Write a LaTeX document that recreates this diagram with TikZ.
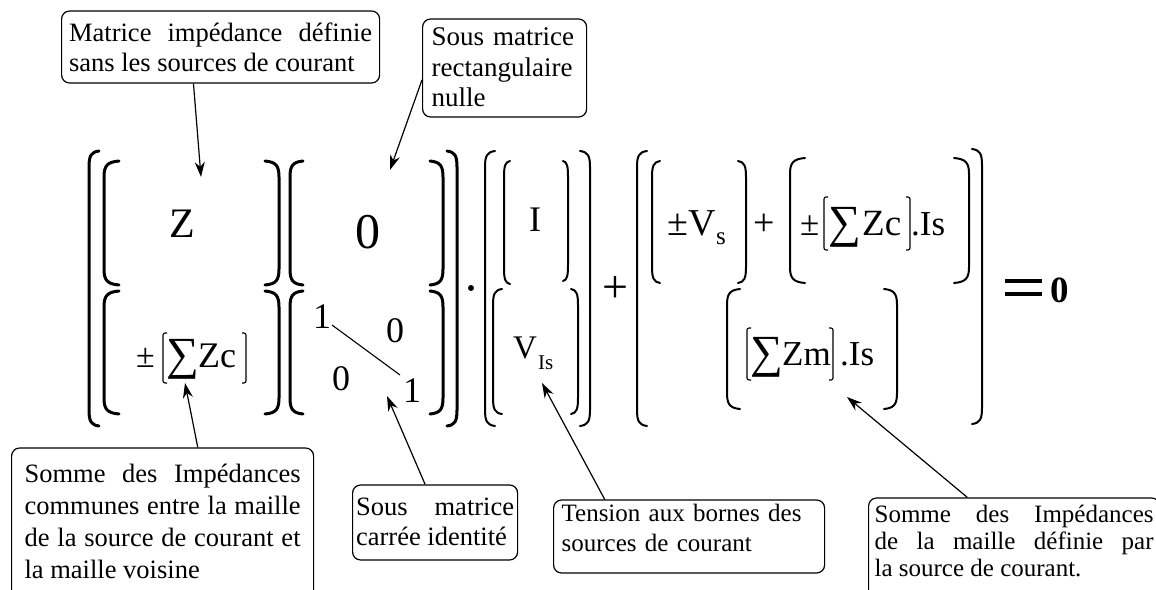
\documentclass[tikz,border=0pt]{standalone}
\usepackage{fontspec}
\setmainfont{Liberation Serif}
\usetikzlibrary{arrows.meta,calc}
\hyphenpenalty=10000
\exhyphenpenalty=10000
\newcommand\fs[2]{\fontsize{#1}{#2}\selectfont}
% big bracket: x, ytop, ybottom, hook dx (signed), line width
\newcommand\bigbrk[5]{\draw[line width=#5pt, line cap=round] ({#1+#4},{#2-1}) .. controls ({#1+0.2*#4},#2) and (#1,{#2+4}) .. (#1,{#2+15}) -- (#1,{#3-15}) .. controls (#1,{#3-4}) and ({#1+0.2*#4},#3) .. ({#1+#4},{#3+1});}
% thin bracket: x, ytop, ybottom, hook dx
\newcommand\thinbrk[4]{\draw[line width=1.1pt, rounded corners=2pt] ({#1+#4},#2) -- (#1,#2) -- (#1,#3) -- ({#1+#4},#3);}
\tikzset{
  box/.style={draw, line width=1.2pt, rounded corners=8pt, inner ysep=0pt, anchor=base west},
  arr/.style={-{Stealth[length=15pt,width=10pt]}, line width=1.2pt},
  t/.style={inner sep=0pt, anchor=base west},
}
\begin{document}
\begin{tikzpicture}[x=1pt,y=-1pt]
\useasboundingbox (0,0) rectangle (1156,589);
\fill[white] (0,0) rectangle (1156,589);

% ---------- brackets ----------
% outer group 1
\bigbrk{89}{152}{425}{10}{3}
\bigbrk{457}{152}{425}{-10}{3}
% block 1
\bigbrk{104}{162}{284}{15}{3}
\bigbrk{104}{292}{413}{15}{3}
\bigbrk{279}{162}{284}{-14}{3}
\bigbrk{279}{292}{413}{-14}{3}
% block 2
\bigbrk{290}{162}{284}{13}{3}
\bigbrk{290}{292}{413}{13}{3}
\bigbrk{443}{162}{284}{-13}{3}
\bigbrk{443}{292}{413}{-13}{3}
% group 3
\bigbrk{485}{152}{425}{10}{2}
\bigbrk{590}{152}{425}{-10}{2}
\bigbrk{504}{162}{283}{6}{2}
\bigbrk{493}{290}{413}{9}{2}
\bigbrk{568}{162}{280}{-5}{2}
\bigbrk{578}{290}{413}{-7}{2}
% group 4
\bigbrk{637}{152}{425}{10}{2}
\bigbrk{982}{150}{423}{-10}{2}
\bigbrk{652}{162}{282}{8}{2}
\bigbrk{746}{162}{282}{-8}{2}
\bigbrk{790}{159}{282}{15}{2}
\bigbrk{969}{159}{282}{-15}{2}
\bigbrk{727}{290}{408}{13}{2}
\bigbrk{897}{290}{408}{-13}{2}

% ---------- block 1 ----------
\node[t, font=\fs{42}{42}] (Z) at (169,237) {Z};
\node[t, font=\fs{34}{34}] (pm1) at (136,367) {±};
\thinbrk{163}{333}{383}{4}
\node[t, font=\fs{46}{46}] (sig1) at (166,369) {∑};
\node[t, font=\fs{36}{36}] (zc1) at (198,367) {Zc};
\thinbrk{246}{333}{383}{-4}

% ---------- block 2 ----------
\node[t, font=\fs{50}{50}] (zero) at (355,248) {0};
\node[t, font=\fs{36}{36}] (i11) at (313,328) {1};
\node[t, font=\fs{36}{36}] (i12) at (386,342) {0};
\node[t, font=\fs{36}{36}] (i21) at (332,390) {0};
\node[t, font=\fs{36}{36}] (i22) at (403,402) {1};
\coordinate (d1) at (332,325);
\coordinate (d2) at (400,375);
\draw[line width=1.1pt] (d1) -- (d2);

\node[circle, fill, inner sep=0pt, minimum size=6pt] (dot) at (471,288) {};

% ---------- group 3 ----------
\node[t, font=\fs{36}{36}] (I) at (529,231) {I};
\node[t, font=\fs{33}{33}] (V) at (513,358) {V};
\node[t, font=\fs{21}{21}] (Vsub) at (538,369) {Is};

\node[font=\fs{46}{46}, inner sep=0pt] (plus1) at (615,290) {+};

% ---------- group 4 ----------
\node[t, font=\fs{38}{38}] (pmV) at (667,235) {±V};
\node[t, font=\fs{25}{25}] (Vs) at (716,244) {s};
\node[font=\fs{38}{38}, inner sep=0pt] (plus2) at (764,225) {+};

\node[t, font=\fs{35}{35}] (pm2) at (800,235) {±};
\thinbrk{824}{197}{250}{4}
\node[t, font=\fs{46}{46}] (sig2) at (828,237) {∑};
\node[t, font=\fs{37}{37}] (zc2) at (862,235) {Zc};
\thinbrk{910}{197}{250}{-4}
\node[t, font=\fs{35}{35}] (is2) at (911,235) {.Is};

\thinbrk{747}{328}{380}{4}
\node[t, font=\fs{46}{46}] (sig3) at (750,367) {∑};
\node[t, font=\fs{35}{35}] (zm) at (782,365) {Zm};
\thinbrk{833}{328}{380}{-4}
\node[t, font=\fs{35}{35}] (is3) at (840,365) {.Is};

% equals zero
\draw[line width=4pt] (1005,281) -- (1042,281);
\draw[line width=4pt] (1005,294) -- (1042,294);
\node[t, font=\fs{37}{37}\bfseries] (res) at (1050,302) {0};

% ---------- callout boxes ----------
\node[box, font=\fs{26.5}{30.5}, text width=303pt, inner xsep=7.5pt, text height=30pt, text depth=42pt, align=justify]
  (b1) at (61,41) {Matrice impédance définie\linebreak sans les sources de courant};
\node[box, font=\fs{27}{30.5}, text width=146pt, inner xsep=9pt, text height=26.5pt, text depth=71.5pt, align=left]
  (b2) at (422,45.5) {Sous matrice\\rectangulaire\\nulle};
\node[box, font=\fs{26.5}{32}, text width=276pt, inner xsep=13pt, text height=34pt, text depth=128pt, align=justify]
  (b3) at (11,482) {Somme des Impédances\linebreak communes entre la maille\linebreak de la source de courant et\linebreak la maille voisine};
\node[box, font=\fs{26.5}{30}, text width=158pt, inner xsep=3.5pt, text height=30pt, text depth=45pt, align=justify]
  (b4) at (352,515) {Sous matrice\linebreak carrée identité};
\node[box, font=\fs{25}{30}, text width=255pt, inner xsep=8pt, text height=21pt, text depth=52pt, align=left]
  (b5) at (553,521) {Tension aux bornes des\\sources de courant};
\node[box, font=\fs{25}{27}, text width=279pt, inner xsep=6pt, text height=24pt, text depth=88pt, align=justify]
  (b6) at (868,522) {Somme des Impédances\linebreak de la maille définie par\linebreak la source de courant.};

% ---------- arrows ----------
\coordinate (a1) at (201,177);
\coordinate (a2) at (390,170);
\coordinate (a3) at (185,383);
\coordinate (a4) at (387,396);
\coordinate (a5) at (542,383);
\coordinate (a6) at (847,397);
\draw[arr] ($(b1.south west)!0.415!(b1.south east)$) -- (a1);
\draw[arr] ($(b2.north west)!0.62!(b2.south west)$) -- (a2);
\draw[arr] ($(b3.north west)!0.616!(b3.north east)$) -- (a3);
\draw[arr] ($(b4.north west)!0.44!(b4.north east)$) -- (a4);
\draw[arr] ($(b5.north west)!0.19!(b5.north east)$) -- (a5);
\draw[arr] ($(b6.north west)!0.34!(b6.north east)$) -- (a6);
\end{tikzpicture}
\end{document}
